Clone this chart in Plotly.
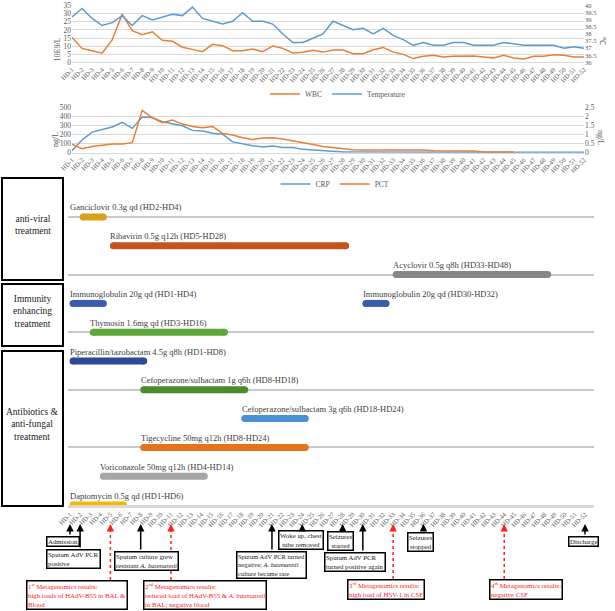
import plotly.graph_objects as go

W, H = 615, 611
FONT = "Liberation Serif"

# ---------------- data ----------------
days = [f"HD-{i}" for i in range(1, 53)]

wbc = [15.4, 8.6, 7.2, 5.6, 13.8, 29.8, 19.6, 17.1, 18.9, 13.6, 13.0, 9.3, 8.0, 6.6,
       11.1, 10.3, 7.2, 7.2, 8.2, 6.6, 10.1, 8.6, 5.8, 6.2, 7.4, 6.3, 7.6, 7.6, 5.3,
       5.3, 7.8, 9.2, 6.3, 4.9, 2.3, 3.7, 4.3, 3.3, 3.7, 3.9, 3.9, 3.3, 2.7, 4.3, 2.7,
       2.0, 3.7, 3.7, 4.7, 4.3, 3.3, 3.3]
temperature = [39.2, 39.8, 39.1, 38.6, 38.8, 39.3, 38.6, 39.3, 39.0, 39.2, 39.4, 39.3,
               39.9, 39.1, 38.9, 38.7, 38.9, 39.5, 38.9, 38.9, 38.7, 38.0, 37.4, 37.4,
               37.7, 38.0, 38.9, 38.6, 38.3, 38.4, 38.0, 38.4, 37.9, 37.6, 37.2, 37.4,
               37.2, 37.2, 37.4, 37.4, 37.2, 37.2, 37.2, 37.4, 37.3, 37.2, 37.2, 37.2,
               37.2, 37.0, 37.1, 37.0]
crp = [22, 141, 229, 259, 285, 337, 270, 396, 392, 344, 326, 300, 248, 241, 215, 205,
       120, 96, 78, 63, 74, 59, 59, 37, 30, 18, 11, 8, 7, 6, 6, 5, 5, 5, 5, 5, 5, 5, 5,
       5, 5, 5, 4, 4, 4, 4, 4, 4, 4, 4, 4, 4]
pct = [0.48, 0.22, 0.35, 0.41, 0.48, 0.48, 0.56, 2.35, 1.94, 1.67, 1.81, 1.59, 1.46,
       1.39, 1.46, 1.07, 0.98, 0.83, 0.74, 0.81, 0.83, 0.76, 0.67, 0.55, 0.46, 0.35,
       0.28, 0.24, 0.17, 0.15, 0.15, 0.17, 0.15, 0.15, 0.17, 0.15, 0.11, 0.11, 0.11,
       0.09, 0.09, 0.04, 0.04, 0.04, 0.04, None, None, None, None, None, None, None]

drugs = ["Ganciclovir 0.3g qd (HD2-HD4)", "Ribavirin 0.5g q12h (HD5-HD28)",
         "Acyclovir 0.5g q8h (HD33-HD48)", "Immunoglobulin 20g qd (HD1-HD4)",
         "Immunoglobulin 20g qd (HD30-HD32)", "Thymosin 1.6mg qd (HD3-HD16)",
         "Piperacillin/tazobactam 4.5g q8h (HD1-HD8)",
         "Cefoperazone/sulbactam 1g q6h (HD8-HD18)",
         "Cefoperazone/sulbactam 3g q6h (HD18-HD24)",
         "Tigecycline 50mg q12h (HD8-HD24)", "Voriconazole 50mg q12h (HD4-HD14)",
         "Daptomycin 0.5g qd (HD1-HD6)"]
drug_start = [2, 5, 33, 1, 30, 3, 1, 8, 18, 8, 4, 1]
drug_end = [4, 28, 48, 4, 32, 16, 8, 18, 24, 24, 14, 6]
drug_row = [0, 1, 2, 3, 3, 4, 5, 6, 7, 8, 9, 10]
label_day = [1, 5, 33, 1, 30, 3, 1, 8, 18, 8, 4, 1]
drug_color = ["#D6A21A", "#C4541F", "#878787", "#3A5DAA", "#3A5DAA", "#5DA83A",
              "#2C4A96", "#4A8B2F", "#4A90D2", "#E8711C", "#A6A6A6", "#F5B800"]

groups = ["anti-viral<br>treatment", "Immunity<br>enhancing<br>treatment",
          "Antibiotics &<br>anti-fungal<br>treatment"]

events = ["Admission", "Sputum AdV PCR<br>positive",
          "Sputum culture grew<br>resistant <i>A. baumannii</i>",
          "Sputum AdV PCR turned<br>negative; <i>A. baumannii</i><br>culture became rare",
          "Woke up, chest<br>tube removed", "Seizures<br>started",
          "Sputum AdV PCR<br>turned positive again", "Seizures<br>stopped", "Discharge"]
event_day = [1, 2, 8, 21, 24, 28, 30, 36, 52]

meta = ["1<sup>st</sup> Metagenomics results:<br>high loads of HAdV-B55 in BAL &<br>Blood",
        "2<sup>nd</sup> Metagenomics results:<br>reduced load of HAdV-B55 & <i>A. baumannii</i><br>in BAL; negative blood",
        "3<sup>rd</sup> Metagenomics results:<br>high load of HSV-1 in CSF",
        "4<sup>th</sup> Metagenomics results:<br>negative CSF"]
meta_day = [5, 11, 33, 44]

# ---------------- layout helpers ----------------
def fx(px):
    return px / W

def fy(py):
    return 1 - py / H

BLUE = "#5B9BD5"
ORANGE = "#ED7D31"
GRID = "#D9D9D9"
TICK = dict(family=FONT, size=7.5, color="#595959")
RTICK = dict(family=FONT, size=6.5, color="#595959")
HDTICK = dict(family=FONT, size=6.5, color="#595959")

fig = go.Figure()

# chart 1
fig.add_trace(go.Scatter(x=days, y=wbc, name="WBC", mode="lines",
                         line=dict(color=ORANGE, width=1.5), xaxis="x", yaxis="y",
                         legend="legend"))
fig.add_trace(go.Scatter(x=days, y=temperature, name="Temperature", mode="lines",
                         line=dict(color=BLUE, width=1.5), xaxis="x", yaxis="y2",
                         legend="legend"))
# chart 2
fig.add_trace(go.Scatter(x=days, y=crp, name="CRP", mode="lines",
                         line=dict(color=BLUE, width=1.5), xaxis="x2", yaxis="y3",
                         legend="legend2"))
fig.add_trace(go.Scatter(x=days, y=pct, name="PCT", mode="lines",
                         line=dict(color=ORANGE, width=1.5), xaxis="x2", yaxis="y4",
                         legend="legend2", connectgaps=False))

# timeline bars
CAP = 0.3
annotations = []
for name, s, e, r, ld, c in zip(drugs, drug_start, drug_end, drug_row, label_day, drug_color):
    fig.add_trace(go.Scatter(x=[s + CAP, e + CAP], y=[r, r], mode="lines+markers",
                             line=dict(color=c, width=7),
                             marker=dict(color=c, size=7, line=dict(width=0)),
                             xaxis="x3", yaxis="y5", showlegend=False, hoverinfo="skip"))
    annotations.append(dict(x=ld, y=r - 0.33, xref="x3", yref="y5", text=name,
                            showarrow=False, xanchor="left", yanchor="middle",
                            xshift=-2,
                            font=dict(family=FONT, size=8.5, color="#404040")))

# group boxes
shapes = []
box_px = [(2, 178, 63, 280), (2, 284, 63, 346), (2, 351, 63, 506)]
for (x0, y0, x1, y1), g in zip(box_px, groups):
    shapes.append(dict(type="rect", xref="paper", yref="paper", x0=fx(x0), x1=fx(x1),
                       y0=fy(y1), y1=fy(y0), line=dict(color="black", width=2)))
    annotations.append(dict(x=fx((x0 + x1) / 2), y=fy((y0 + y1) / 2 - 4), xref="paper",
                            yref="paper", text=g, showarrow=False, xanchor="center",
                            yanchor="middle",
                            font=dict(family=FONT, size=9.5, color="#222222")))

# event boxes and arrows
TIP = 524
ev_box = [(46, 536, "center", 6.8), (46, 549, "left", 6.8), (114, 551, "left", 6.8),
          (236, 551, "left", 6.5), (278, 530, "center", 6.8), (327, 531, "center", 6.8),
          (324, 552, "left", 6.8), (407, 532, "center", 6.8), (568, 536, "center", 6.8)]
for txt, d, (bx, by, al, fs) in zip(events, event_day, ev_box):
    annotations.append(dict(x=fx(bx), y=fy(by), xref="paper", yref="paper", text=txt,
                            showarrow=False, xanchor="left", yanchor="top", align=al,
                            bordercolor="black", borderwidth=1.5, borderpad=0.5,
                            bgcolor="white",
                            font=dict(family=FONT, size=fs, color="#222222")))
    annotations.append(dict(x=d, y=fy(TIP), xref="x3", yref="paper", text="",
                            showarrow=True, ax=0, ay=by - TIP, axref="pixel",
                            ayref="pixel", arrowhead=2, arrowsize=1, arrowwidth=1.5,
                            arrowcolor="black"))

meta_box = [(26, 580), (143, 580), (347, 579), (489, 579)]
for txt, d, (bx, by) in zip(meta, meta_day, meta_box):
    annotations.append(dict(x=fx(bx), y=fy(by), xref="paper", yref="paper", text=txt,
                            showarrow=False, xanchor="left", yanchor="top", align="left",
                            bordercolor="black", borderwidth=1.5, borderpad=0.5,
                            bgcolor="white",
                            font=dict(family=FONT, size=6.8, color="#FF2020")))
    shapes.append(dict(type="line", xref="x3", yref="paper", x0=d, x1=d,
                       y0=fy(by), y1=fy(TIP + 4),
                       line=dict(color="#FF2020", width=1.5, dash="dot")))
    annotations.append(dict(x=d, y=fy(TIP), xref="x3", yref="paper", text="",
                            showarrow=True, ax=0, ay=7, axref="pixel", ayref="pixel",
                            arrowhead=2, arrowsize=1, arrowwidth=1.5,
                            arrowcolor="#FF2020"))

# axis titles
annotations += [
    dict(x=fx(51), y=fy(36), xref="paper", yref="paper", text="10E9/L", textangle=-90,
         showarrow=False, font=dict(family=FONT, size=8, color="#595959")),
    dict(x=fx(609), y=fy(34), xref="paper", yref="paper", text="℃", textangle=90,
         showarrow=False, font=dict(family=FONT, size=8, color="#595959")),
    dict(x=fx(49), y=fy(130), xref="paper", yref="paper", text="ng/L", textangle=-90,
         showarrow=False, font=dict(family=FONT, size=8, color="#595959")),
    dict(x=fx(607), y=fy(128), xref="paper", yref="paper", text="ng/L", textangle=90,
         showarrow=False, font=dict(family=FONT, size=8, color="#595959")),
]

xdom = [fx(72), fx(584)]
common_x = dict(type="category", tickmode="array", tickvals=days, ticktext=days,
                tickangle=-45, tickfont=HDTICK, showgrid=False, showline=True,
                linecolor=GRID, ticks="", automargin=False, domain=xdom)

fig.update_layout(
    width=W, height=H, autosize=False,
    margin=dict(l=0, r=0, t=0, b=0),
    paper_bgcolor="white", plot_bgcolor="white",
    font=dict(family=FONT, color="#404040"),
    xaxis=dict(anchor="y", **common_x),
    yaxis=dict(domain=[fy(62.3), fy(5.7)], range=[0, 35], dtick=5, gridcolor=GRID,
               zeroline=False, tickfont=TICK, automargin=False, anchor="x"),
    yaxis2=dict(overlaying="y", side="right", range=[36, 40], dtick=0.5, showgrid=False,
                zeroline=False, tickfont=RTICK, automargin=False, anchor="x"),
    xaxis2=dict(anchor="y3", **common_x),
    yaxis3=dict(domain=[fy(152.7), fy(107.7)], range=[0, 500], dtick=100, gridcolor=GRID,
                zeroline=False, tickfont=TICK, automargin=False, anchor="x2"),
    yaxis4=dict(overlaying="y3", side="right", range=[0, 2.5], dtick=0.5, showgrid=False,
                zeroline=False, tickfont=TICK, automargin=False, anchor="x2"),
    xaxis3=dict(domain=[fx(68), fx(594)], anchor="y5", range=[0.802, 52.891],
                tickmode="array", tickvals=list(range(1, 53)), ticktext=days,
                tickangle=-45, tickfont=HDTICK, showgrid=False, zeroline=False,
                showline=True, linecolor=GRID, linewidth=3, ticks="", automargin=False),
    yaxis5=dict(domain=[fy(505), fy(190)], range=[10, -0.9375], anchor="x3",
                tickmode="array", tickvals=[0, 2, 4, 6, 8], showticklabels=False,
                showgrid=True, gridcolor="#C8C8C8", gridwidth=1.5, zeroline=False,
                automargin=False),
    legend=dict(orientation="h", x=fx(338), y=fy(94), xanchor="center", yanchor="middle",
                font=dict(family=FONT, size=7.5, color="#595959"), bgcolor="rgba(0,0,0,0)",
                itemwidth=30, traceorder="normal"),
    legend2=dict(orientation="h", x=fx(335), y=fy(184), xanchor="center", yanchor="middle",
                 font=dict(family=FONT, size=7.5, color="#595959"), bgcolor="rgba(0,0,0,0)",
                 itemwidth=30, traceorder="normal"),
    shapes=shapes,
    annotations=annotations,
    showlegend=True,
)

fig.write_html("out.html", config={"displayModeBar": False},
               post_script="document.body.style.margin='0';document.body.style.overflow='hidden';")
